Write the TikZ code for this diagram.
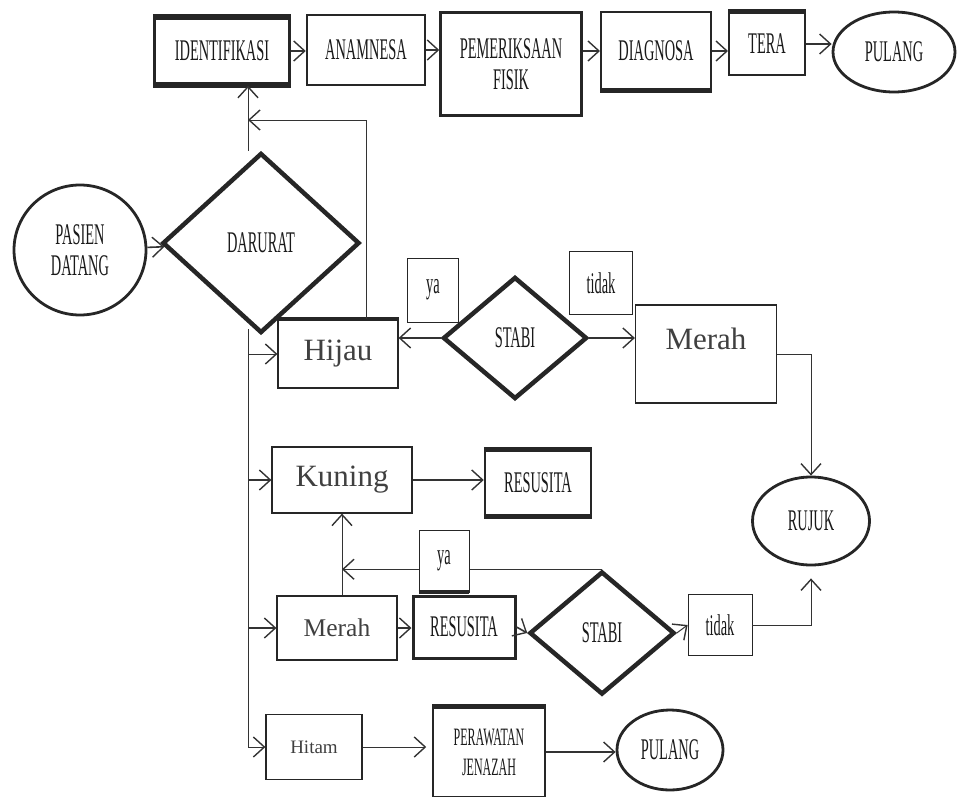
\documentclass[tikz,border=0pt]{standalone}
\usepackage{fontspec}
\setmainfont{Liberation Serif}
\newfontfamily\scanfont[FakeStretch=0.48]{Liberation Serif}
\usetikzlibrary{shapes.geometric,arrows.meta}
\newcommand\scanlabel{\scanfont\fontsize{30}{31}\selectfont}
\newcommand\bigserif{\fontsize{31}{33}\selectfont}
\tikzset{
  box/.style = {draw=black!85, text=black!75, rectangle, line width=1.2pt,
    inner sep=0pt, align=center, font=\bigserif},
  capbox/.style = {box, text=black!90, font=\scanlabel},
  midbox/.style = {capbox, line width=2.5pt},
  heavybox/.style = {capbox, line width=3.5pt},
  labelbox/.style = {capbox, fill=white, line width=0.8pt},
  decision/.style = {draw=black!85, text=black!90, diamond, line width=4.5pt,
    inner sep=0pt, font=\scanlabel},
  terminal/.style = {draw=black!85, text=black!90, ellipse, line width=2.8pt,
    inner sep=0pt, align=center, font=\scanlabel},
  heavyedge/.style = {draw=black!85, line width=5pt},
  arr/.style = {draw=black!80, line width=1pt,
    -{Straight Barb[length=11pt,width=20pt,line width=1.4pt]}},
  fatarr/.style = {arr, line width=2.6pt}
}

\begin{document}
\begin{tikzpicture}[x=1pt,y=-1pt]
  \useasboundingbox (0,0) rectangle (957,797);

  % top row
  \node[heavybox, minimum width=135, minimum height=66] (ide) at (222,51) {IDENTIFIKASI};
  \node[midbox, minimum width=118, minimum height=70] (ana) at (366,50) {ANAMNESA};
  \node[midbox, minimum width=141, minimum height=103] (pem) at (511,64) {PEMERIKSAAN\\FISIK};
  \node[midbox, line width=2pt, minimum width=110, minimum height=77] (dia) at (656,51) {DIAGNOSA};
  \node[midbox, line width=2pt, minimum width=76, minimum height=63] (ter) at (767,44) {TERA};
  \node[terminal, minimum width=122, minimum height=80] (pul) at (894,52) {PULANG};
  \draw[heavyedge] (ide.north west) -- (ide.north east);
  \draw[heavyedge] (ide.south west) -- (ide.south east);
  \draw[heavyedge] (dia.south west) -- (dia.south east);
  \draw[heavyedge] (ter.north west) -- (ter.north east);

  \draw[fatarr, line width=1.6pt] (ide.east) -- (ide.east -| ana.west);
  \draw[fatarr, line width=1.6pt] (ana.east) -- (ana.east -| pem.west);
  \draw[fatarr, line width=1.6pt] (dia.west -| pem.east) -- (dia.west);
  \draw[fatarr, line width=1.6pt] (dia.east) -- (dia.east -| ter.west);
  \draw[fatarr, line width=1.6pt] (ter.east) -- (ter.east -| pul.west);

  % start and triage
  \node[terminal, minimum width=132, minimum height=130] (pas) at (80,250) {PASIEN\\DATANG};
  \node[decision, minimum width=197, minimum height=180] (dar) at (261,243) {DARURAT};
  \coordinate (bus) at (248,329);
  \coordinate (loop) at (366,120);
  \draw[fatarr, line width=1.6pt] (pas) -- (dar);
  \draw[arr] (dar.north -| bus) -- (ide.south -| bus);

  % hijau
  \node[box, minimum width=120, minimum height=68] (hij) at (338,354) {Hijau};
  \node[decision, minimum width=144, minimum height=122] (sta1) at (515,338) {STABI};
  \node[labelbox, minimum width=51, minimum height=64] (ya1) at (433,290) {ya};
  \node[labelbox, minimum width=63, minimum height=63] (tid1) at (601,283) {tidak};
  \node[box, minimum width=141, minimum height=98, text depth=30pt] (mer1) at (706,354) {Merah};
  \node[terminal, minimum width=117, minimum height=88] (ruj) at (811,521) {RUJUK};
  \draw[heavyedge, line width=4pt] (hij.north west) -- (hij.north east);
  \draw[arr] (hij.north -| loop) -- (loop) -- (loop -| bus);
  \draw[fatarr] (sta1.west) -- (sta1.west -| hij.east);
  \draw[fatarr, line width=1.8pt] (sta1.east) -- (sta1.east -| mer1.west);
  \draw[arr] (mer1.east) -| (ruj.north);

  % kuning
  \node[box, minimum width=140, minimum height=66] (kun) at (342,480) {Kuning};
  \node[midbox, minimum width=106, minimum height=64] (res1) at (538,483) {RESUSITA};
  \draw[heavyedge] (res1.north west) -- (res1.north east);
  \draw[heavyedge] (res1.south west) -- (res1.south east);
  \draw[fatarr] (kun.east) -- (kun.east -| res1.west);

  % merah
  \node[box, minimum width=120, minimum height=64, font=\fontsize{25.5}{27}\selectfont] (mer2) at (337,628) {Merah};
  \node[heavybox, line width=3pt, minimum width=102, minimum height=62] (res2) at (464,627) {RESUSITA};
  \node[decision, minimum width=145, minimum height=123] (sta2) at (602,633) {STABI};
  \node[labelbox, minimum width=64, minimum height=61] (tid2) at (720,625) {tidak};
  \draw[arr] (mer2.north -| kun.south) -- (kun.south);
  \draw[arr] (sta2.north) -- (sta2.north -| kun.south);
  \node[labelbox, minimum width=50, minimum height=62] (ya2) at (444,561) {ya};
  \draw[heavyedge, line width=4pt] (ya2.south west) -- (ya2.south east);
  \draw[fatarr, line width=1.6pt] (mer2.east) -- (mer2.east -| res2.west);
  \draw[fatarr, line width=1.6pt] (res2.east) -- (sta2.west);
  \draw[arr] (sta2.east) -- (tid2.west);
  \draw[arr, shorten >=12pt] (tid2.east) -| (ruj.south);

  % hitam
  \node[box, minimum width=96, minimum height=65, font=\fontsize{19}{21}\selectfont] (hit) at (314,747) {Hitam};
  \node[box, text=black!90, line width=1.5pt, minimum width=112, minimum height=89, font=\scanfont\fontsize{25}{30}\selectfont] (per) at (489,752) {PERAWATAN\\JENAZAH};
  \node[terminal, minimum width=106, minimum height=80] (pul2) at (670,750) {PULANG};
  \draw[heavyedge] (per.north west) -- (per.north east);
  \draw[arr, shorten >=6pt] (hit.east) -- (hit.east -| per.west);
  \draw[fatarr, line width=1.6pt] (per.east) -- (per.east -| pul2.west);

  % left bus
  \draw[arr] (bus) |- (hit.west);
  \draw[arr] (bus |- hij.west) -- (hij.west);
  \draw[fatarr, line width=1.8pt] (bus |- kun.west) -- (kun.west);
  \draw[fatarr, line width=1.6pt] (bus |- mer2.west) -- (mer2.west);
\end{tikzpicture}
\end{document}
